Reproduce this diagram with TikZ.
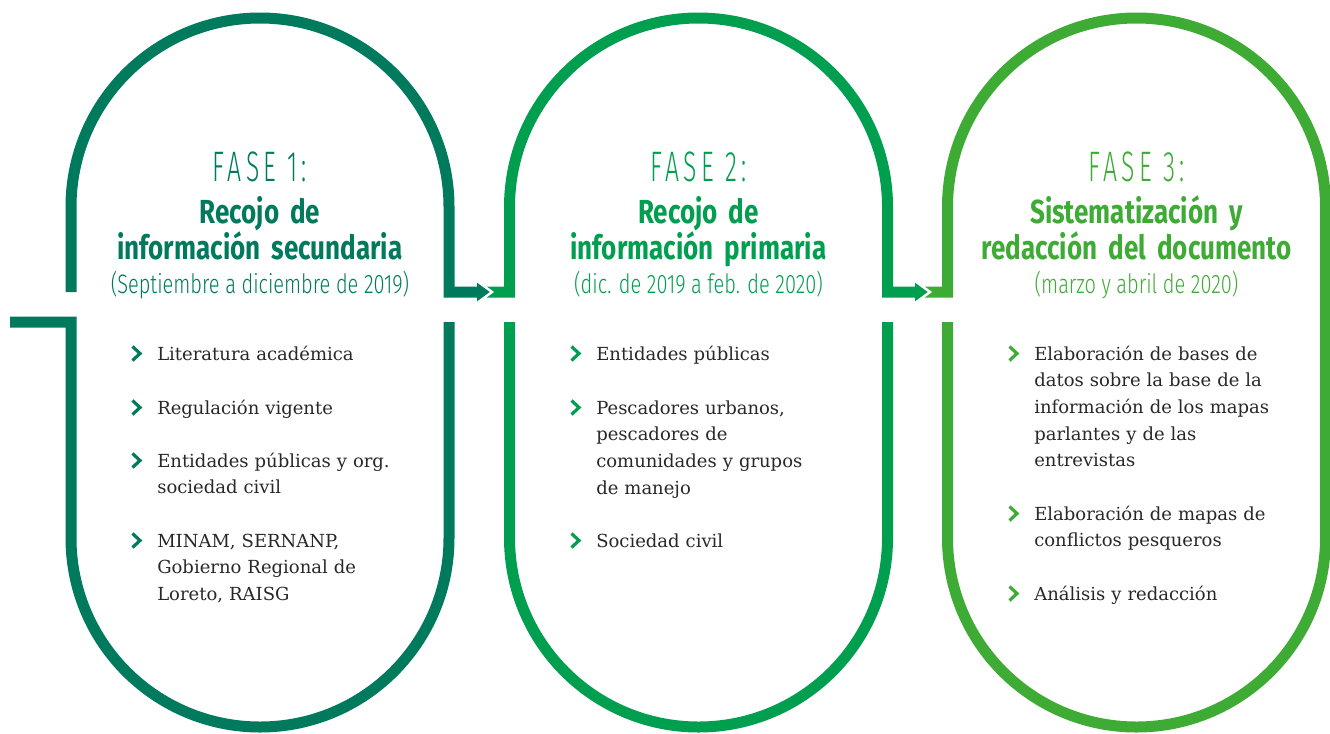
\documentclass[tikz,border=0pt]{standalone}
\usepackage{fontspec}
\usepackage{xcolor}
\usepackage{tikz}
\usetikzlibrary{positioning, calc}

\newfontfamily\fasefont{Fira Sans Light}[FakeStretch=0.58, LetterSpace=10]
\newfontfamily\titlefont{Fira Sans Bold}[FakeStretch=0.78]
\newfontfamily\datefont{Fira Sans Light}[FakeStretch=0.75]
\newfontfamily\bodyfont{DejaVu Serif}

\definecolor{faseuno}{RGB}{0,122,92}
\definecolor{fasedos}{RGB}{0,158,79}
\definecolor{fasetres}{RGB}{62,171,53}
\definecolor{textogris}{RGB}{40,40,40}

\tikzset{
  ring/.style={line width=8.25pt, line join=miter},
  punta/.style={draw=white, line width=1.8pt},
  fase/.style={font=\fontsize{32}{33}\fasefont, anchor=base, inner sep=0pt},
  titulo/.style={font=\fontsize{25}{25.9}\titlefont, text width=280pt, align=center, anchor=base, inner sep=0pt},
  fecha/.style={font=\fontsize{20}{21}\datefont, anchor=base, inner sep=0pt},
  item/.style={font=\fontsize{13.5}{20}\bodyfont, text=textogris, text width=200pt, align=left, anchor=base west, inner sep=0pt},
  chev/.pic={\draw[line width=2.4pt, line join=miter] (-4,7) -- (3.5,0) -- (-4,-7);},
}

\begin{document}
\begin{tikzpicture}[x=0.75pt, y=0.75pt]
    \useasboundingbox (0,0) rectangle (1330,-733);

    % fase 1
    \draw[ring, faseuno] (71,-292) -- (71,-207) arc[start angle=180, end angle=0, radius=141.75pt] -- (449,-292) -- (479,-292);
    \draw[ring, faseuno] (10,-322) -- (71,-322) -- (71,-538) arc[start angle=180, end angle=360, radius=141.75pt] -- (449,-322);

    % fase 2
    \draw[ring, fasedos] (487,-292) -- (509.5,-292) -- (509.5,-207) arc[start angle=180, end angle=0, radius=141.75pt] -- (887.5,-292) -- (917,-292);
    \draw[ring, fasedos] (509.5,-322) -- (509.5,-538) arc[start angle=180, end angle=360, radius=141.75pt] -- (887.5,-322);
    \fill[faseuno] (477,-281) -- (492,-292) -- (477,-303) -- cycle;
    \draw[punta] (477,-281) -- (492,-292) -- (477,-303);

    % fase 3
    \draw[ring, fasetres] (925,-292) -- (947.5,-292) -- (947.5,-207) arc[start angle=180, end angle=0, radius=141.75pt] -- (1325.5,-538) arc[start angle=0, end angle=-180, radius=141.75pt] -- (947.5,-322);
    \fill[fasedos] (915,-281) -- (930,-292) -- (915,-303) -- cycle;
    \draw[punta] (915,-281) -- (930,-292) -- (915,-303);

    \node[fase, text=faseuno] (f1) at (260,-181) {FASE 1:};
    \node[titulo, text=faseuno] (t1) at (260,-223) {Recojo de\\información secundaria};
    \node[fecha, text=faseuno] (d1) at (260,-293) {(Septiembre a diciembre de 2019)};

    \node[fase, text=fasedos] (f2) at (698.5,-181) {FASE 2:};
    \node[titulo, text=fasedos] (t2) at (698.5,-223) {Recojo de\\información primaria};
    \node[fecha, text=fasedos] (d2) at (698.5,-293) {(dic. de 2019 a feb. de 2020)};

    \node[fase, text=fasetres] (f3) at (1136.5,-181) {FASE 3:};
    \node[titulo, text=fasetres] (t3) at (1136.5,-223) {Sistematización y\\redacción del documento};
    \node[fecha, text=fasetres] (d3) at (1136.5,-293) {(marzo y abril de 2020)};

    \node[item] (i11) at (157,-360) {Literatura académica};
    \node[item] (i12) at (157,-414) {Regulación vigente};
    \node[item] (i13) at (157,-467) {Entidades públicas y org.\\sociedad civil};
    \node[item] (i14) at (157,-547) {MINAM, SERNANP,\\Gobierno Regional de\\Loreto, RAISG};

    \node[item] (i21) at (596,-360) {Entidades públicas};
    \node[item] (i22) at (596,-414) {Pescadores urbanos,\\pescadores de\\comunidades y grupos\\de manejo};
    \node[item] (i23) at (596,-547) {Sociedad civil};

    \node[item] (i31) at (1034,-360) {Elaboración de bases de\\datos sobre la base de la\\información de los mapas\\parlantes y de las\\entrevistas};
    \node[item] (i32) at (1034,-520) {Elaboración de mapas de\\conflictos pesqueros};
    \node[item] (i33) at (1034,-600) {Análisis y redacción};

    \pic[faseuno] at ($(i11.base west)+(-20.5,6.5)$) {chev};
    \pic[faseuno] at ($(i12.base west)+(-20.5,6.5)$) {chev};
    \pic[faseuno] at ($(i13.base west)+(-20.5,6.5)$) {chev};
    \pic[faseuno] at ($(i14.base west)+(-20.5,6.5)$) {chev};
    \pic[fasedos] at ($(i21.base west)+(-20.5,6.5)$) {chev};
    \pic[fasedos] at ($(i22.base west)+(-20.5,6.5)$) {chev};
    \pic[fasedos] at ($(i23.base west)+(-20.5,6.5)$) {chev};
    \pic[fasetres] at ($(i31.base west)+(-20.5,6.5)$) {chev};
    \pic[fasetres] at ($(i32.base west)+(-20.5,6.5)$) {chev};
    \pic[fasetres] at ($(i33.base west)+(-20.5,6.5)$) {chev};
\end{tikzpicture}
\end{document}
